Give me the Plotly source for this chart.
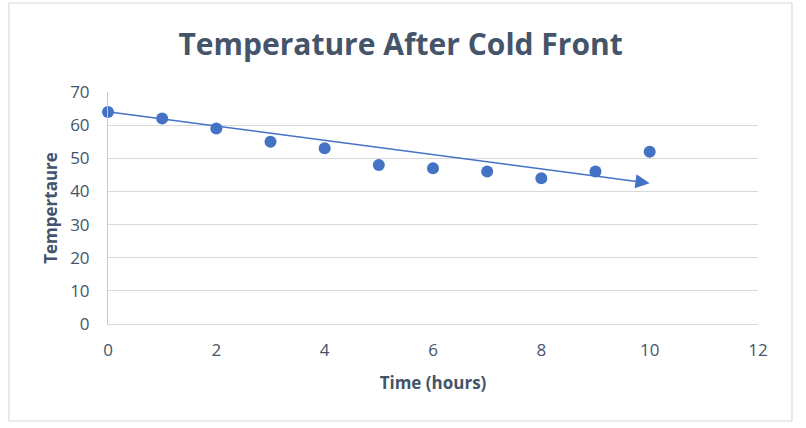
import plotly.graph_objects as go

time_hours = [0, 1, 2, 3, 4, 5, 6, 7, 8, 9, 10]
temperature = [64, 62, 59, 55, 53, 48, 47, 46, 44, 46, 52]
trend_start = (0, 64)
trend_end = (10, 42.5)
x_ticks = [0, 2, 4, 6, 8, 10, 12]
y_ticks = [0, 10, 20, 30, 40, 50, 60, 70]

W, H = 806, 428
ml, mr, mt, mb = 108, 48, 92, 104
pw, ph = W - ml - mr, H - mt - mb

text_col = "#44546A"
tick_col = "#44546A"
blue = "#4472C4"
font_family = "Open Sans"

fig = go.Figure()
fig.add_trace(go.Scatter(
    x=time_hours, y=temperature, mode="markers",
    marker=dict(color=blue, size=12), cliponaxis=False,
    showlegend=False, hoverinfo="x+y",
))

fig.add_annotation(
    x=trend_end[0], y=trend_end[1], ax=trend_start[0], ay=trend_start[1],
    xref="x", yref="y", axref="x", ayref="y",
    showarrow=True, arrowhead=2, arrowsize=1.9, arrowwidth=1.5,
    arrowcolor=blue, text="", standoff=0, startstandoff=0,
)

# outer chart border
fig.add_shape(
    type="rect", xref="paper", yref="paper",
    x0=(9 - ml) / pw, x1=(792 - ml) / pw,
    y0=(H - 421 - mb) / ph, y1=(H - 3 - mb) / ph,
    line=dict(color="#D9D9D9", width=1.2), fillcolor="rgba(0,0,0,0)", layer="below",
)

fig.update_layout(
    width=W, height=H,
    margin=dict(l=ml, r=mr, t=mt, b=mb),
    paper_bgcolor="white", plot_bgcolor="white",
    title=dict(text="<b>Temperature After Cold Front</b>", x=0.497, xanchor="center",
               y=1 - 44 / H, yanchor="middle",
               font=dict(family="Open Sans", size=30, color=text_col)),
    xaxis=dict(
        range=[0, 12], tickvals=x_ticks, showgrid=False, zeroline=False,
        showline=True, linecolor="#D9D9D9", linewidth=1, ticks="",
        tickfont=dict(family=font_family, size=17, color=tick_col),
        ticklabelstandoff=11,
        title=dict(text="<b>Time (hours)</b>", standoff=16,
                   font=dict(family=font_family, size=17, color=text_col)),
        fixedrange=True,
    ),
    yaxis=dict(
        range=[0, 70], tickvals=y_ticks, showgrid=True, gridcolor="#D9D9D9", gridwidth=1,
        zeroline=False, showline=True, linecolor="#BFC9D9", linewidth=1, ticks="",
        tickfont=dict(family=font_family, size=17, color=tick_col),
        ticklabelstandoff=14,
        title=dict(text="<b>Tempertaure</b>", standoff=8,
                   font=dict(family=font_family, size=17, color=text_col)),
        fixedrange=True,
    ),
)

fig.write_html(
    "out.html",
    config={"displayModeBar": False},
    post_script="document.body.style.margin='0';document.body.style.overflow='hidden';",
)
